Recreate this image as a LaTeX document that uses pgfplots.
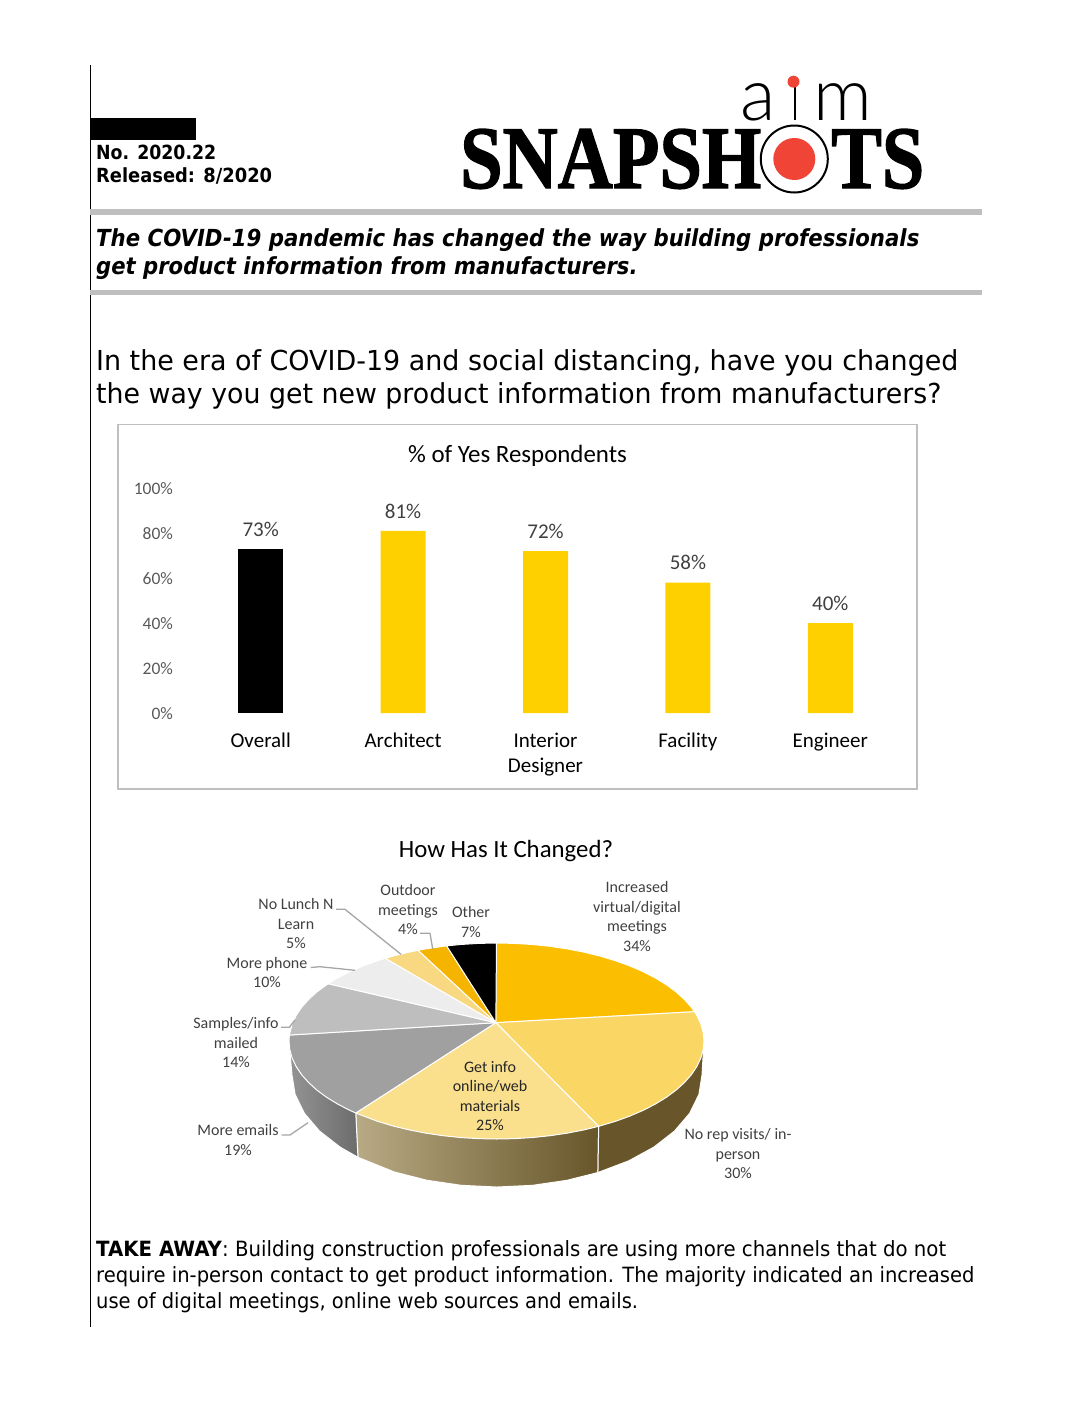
\documentclass[border=0pt]{standalone}
\usepackage{fontspec}
\usepackage{graphicx}
\usepackage{pgfplots}
\pgfplotsset{compat=1.18}
\setmainfont{Carlito}
\newfontfamily\vfont{DejaVu Sans}
\newfontfamily\logofont[FakeBold=1.6]{Liberation Serif Bold}
\newfontfamily\aimfont{Lato Light}
\definecolor{ruleg}{RGB}{191,191,191}
\definecolor{barg}{RGB}{255,208,0}
\definecolor{tickg}{RGB}{89,89,89}
\definecolor{valg}{RGB}{64,64,64}
\definecolor{leadg}{RGB}{166,166,166}
\definecolor{logored}{RGB}{240,68,54}
\definecolor{sa}{RGB}{252,190,0}
\definecolor{sb}{RGB}{250,214,100}
\definecolor{sc}{RGB}{250,224,140}
\definecolor{sd}{RGB}{160,160,160}
\definecolor{se}{RGB}{190,190,190}
\definecolor{sf}{RGB}{237,237,237}
\definecolor{sg}{RGB}{249,216,130}
\definecolor{sh}{RGB}{245,180,0}
\definecolor{wb}{RGB}{104,86,42}
\definecolor{wgl}{RGB}{148,148,148}
\definecolor{wgr}{RGB}{108,108,108}
\newcommand{\fsz}[1]{\fontsize{#1}{1.22\dimexpr#1pt\relax}\selectfont}
% line of page text, squeezed to the width of the reference's face
\newcommand{\pline}[4]{\node[anchor=base west,inner sep=0] at (96,#1) {\scalebox{#2}[1]{\vfont#3#4}};}
\begin{document}
\begin{tikzpicture}
% page frame in reference pixels
\begin{scope}[x=1pt,y=-1pt]
\path (0,0) rectangle (1088,1408);
\fill (90,65) rectangle (91.2,1327);
\fill (90,118) rectangle (196,140);
\fill[ruleg] (90,209) rectangle (982,215);
\fill[ruleg] (90,290) rectangle (982,295);
\draw[ruleg,line width=1.5pt] (118,424.5) rectangle (917,789);

\pline{159}{.889}{\bfseries\fsz{19.5}}{No. 2020.22}
\pline{182}{.917}{\bfseries\fsz{19.5}}{Released: 8/2020}
\pline{246}{.905}{\bfseries\itshape\fsz{23.5}}{The COVID-19 pandemic has changed the way building professionals}
\pline{274}{.90}{\bfseries\itshape\fsz{23.5}}{get product information from manufacturers.}
\pline{370}{.979}{\fsz{27.5}}{In the era of COVID-19 and social distancing, have you changed}
\pline{403}{.974}{\fsz{27.5}}{the way you get new product information from manufacturers?}
\pline{1256}{.94}{\fsz{21}}{\textbf{TAKE AWAY}: Building construction professionals are using more channels that do not}
\pline{1282}{.931}{\fsz{21}}{require in-person contact to get product information. The majority indicated an increased}
\pline{1308}{.928}{\fsz{21}}{use of digital meetings, online web sources and emails.}

% logo
\node[anchor=base west,inner sep=0] at (460,188) {\resizebox{301pt}{59pt}{\logofont SNAPSH}};
\node[anchor=base west,inner sep=0] at (831,188) {\resizebox{93pt}{59pt}{\logofont TS}};
\draw[line width=2pt,fill=white] (794.3,159) circle (33.5pt);
\fill[logored] (794.3,159) circle (21pt);
\node[anchor=base west,inner sep=0] at (740,120) {\aimfont\fsz{73}a};
\node[anchor=base west,inner sep=0] at (813,120) {\aimfont\fsz{73}m};
\fill (793.5,84) rectangle (795.5,120);
\fill[logored] (793.5,81.7) circle (6pt);

% chart titles
\node[anchor=base,inner sep=0] at (517.5,462) {\fsz{24.9}\% of Yes Respondents};
\node[anchor=base,inner sep=0] at (506,857.5) {\fsz{24.8}How Has It Changed?};
\end{scope}

% bars
\begin{axis}[
    at={(189.5pt,-713pt)},anchor=south west,
    scale only axis,width=712pt,height=225pt,
    ybar,bar width=45pt,bar shift=0pt,
    xmin=-0.5,xmax=4.5,ymin=0,ymax=100,
    axis line style={draw=none},
    major tick style={draw=none},
    xtick={0,1,2,3,4},
    xticklabels={Overall,Architect,{Interior\\Designer},Facility,Engineer},
    xticklabel style={font=\fsz{21},align=center,text=black,yshift=-12pt},
    ytick={0,20,40,60,80,100},
    yticklabel={\pgfmathprintnumber{\tick}\%},
    yticklabel style={font=\fsz{17.5},text=tickg,/pgf/number format/assume math mode=true,xshift=-13pt,yshift=-1pt},
    nodes near coords={\pgfmathprintnumber{\pgfplotspointmeta}\%},
    nodes near coords style={font=\fsz{21},text=valg,/pgf/number format/assume math mode=true,yshift=9pt},
    clip=false,
]
\addplot[fill=black,draw=none] coordinates {(0,73)};
\addplot[fill=barg,draw=none] coordinates {(1,81) (2,72) (3,58) (4,40)};
\end{axis}

% pie: unit ellipse, slices as (angle,radius), walls as x,y
\begin{axis}[
    at={(289pt,-1139pt)},anchor=south west,
    scale only axis,width=415pt,height=196pt,
    xmin=-1,xmax=1,ymin=-1,ymax=1,
    hide axis,clip=false,no marks,
]
% side walls
\addplot[draw=white,line width=1pt,left color=wb!55!white!85!sb,right color=wb] coordinates {
 (-0.6782,-0.7349) (-0.6677,-1.187) (-0.4916,-1.3368) (-0.3355,-1.4211) (-0.1691,-1.4726)
 (0.0024,-1.49) (0.1739,-1.4726) (0.3403,-1.4211) (0.4889,-1.3419) (0.4924,-0.8704)} --cycle;
\addplot[draw=white,line width=1pt,fill=wb] coordinates {
 (0.4924,-0.8704) (0.4889,-1.3419) (0.6375,-1.2226) (0.7592,-1.0817) (0.8580,-0.9185)
 (0.9308,-0.7379) (0.9754,-0.5454) (0.9904,-0.347) (1,0)} --cycle;
\addplot[draw=white,line width=1pt,left color=wgl,right color=wgr] coordinates {
 (-1,0) (-0.9856,-0.347) (-0.9706,-0.5454) (-0.9260,-0.7379) (-0.8532,-0.9185)
 (-0.7544,-1.0817) (-0.6677,-1.187) (-0.6782,-0.7349)} --cycle;
% top face
\pgfplotsset{every axis plot/.append style={draw=white,line width=1pt,line join=round}}
\addplot[data cs=polar,fill=sa] coordinates {(91,0.187) (90,1) (85,1) (80,1) (75,1) (70,1) (65,1) (60,1) (55,1) (50,1) (45,1) (40,1) (35,1) (30,1) (25,1) (20,1) (17.4,1)} --cycle;
\addplot[data cs=polar,fill=sb] coordinates {(91,0.187) (17.4,1) (15,1) (10,1) (5,1) (0,1) (-5,1) (-10,1) (-15,1) (-20,1) (-25,1) (-30,1) (-35,1) (-40,1) (-45,1) (-50,1) (-55,1) (-60.5,1)} --cycle;
\addplot[data cs=polar,fill=sc] coordinates {(91,0.187) (-60.5,1) (-65,1) (-70,1) (-75,1) (-80,1) (-85,1) (-90,1) (-95,1) (-100,1) (-105,1) (-110,1) (-115,1) (-120,1) (-125,1) (-132.7,1)} --cycle;
\addplot[data cs=polar,fill=sd] coordinates {(91,0.187) (-132.7,1) (-135,1) (-140,1) (-145,1) (-150,1) (-155,1) (-160,1) (-165,1) (-170,1) (-175,1) (-180,1) (-183.5,1)} --cycle;
\addplot[data cs=polar,fill=se] coordinates {(91,0.187) (176.5,1) (170,1) (165,1) (160,1) (155,1) (150,1) (144.2,1)} --cycle;
\addplot[data cs=polar,fill=sf] coordinates {(91,0.187) (144.2,1) (140,1) (135,1) (130,1) (125,1) (122.4,1)} --cycle;
\addplot[data cs=polar,fill=sg] coordinates {(91,0.187) (122.4,1) (120,1) (115,1) (112.2,1)} --cycle;
\addplot[data cs=polar,fill=sh] coordinates {(91,0.187) (112.2,1) (110,1) (105,1) (103.9,1)} --cycle;
\addplot[data cs=polar,fill=black] coordinates {(91,0.187) (103.9,1) (100,1) (95,1) (90,1)} --cycle;
\end{axis}

% pie labels and leaders
\begin{scope}[x=1pt,y=-1pt]
\draw[leadg,line width=1.3pt] (336,909.3) -- (345,909.3) -- (401,954.3);
\draw[leadg,line width=1.3pt] (420,933.3) -- (430,933.3) -- (432.7,949);
\draw[leadg,line width=1.3pt] (310.7,967.5) -- (320,966.7) -- (355,970.3);
\draw[leadg,line width=1.3pt] (281,1027.3) -- (289.3,1027.3) -- (295,1020);
\draw[leadg,line width=1.3pt] (281.7,1135) -- (290,1135) -- (308,1122.7);
\tikzset{lab/.style={align=center,inner sep=0,text=valg,font=\fsz{16}}}
\node[lab] at (637,916.5) {Increased\\virtual/digital\\meetings\\34\%};
\node[lab] at (738,1153.5) {No rep visits/ in-\\person\\30\%};
\node[lab,text=black!85] at (490,1096) {Get info\\online/web\\materials\\25\%};
\node[lab] at (238,1140) {More emails\\19\%};
\node[lab] at (236,1042.5) {Samples/info\\mailed\\14\%};
\node[lab] at (267,972.5) {More phone\\10\%};
\node[lab] at (296,923.5) {No Lunch N\\Learn\\5\%};
\node[lab] at (408,909.5) {Outdoor\\meetings\\4\%};
\node[lab] at (471,922) {Other\\7\%};
\end{scope}
\end{tikzpicture}
\end{document}
